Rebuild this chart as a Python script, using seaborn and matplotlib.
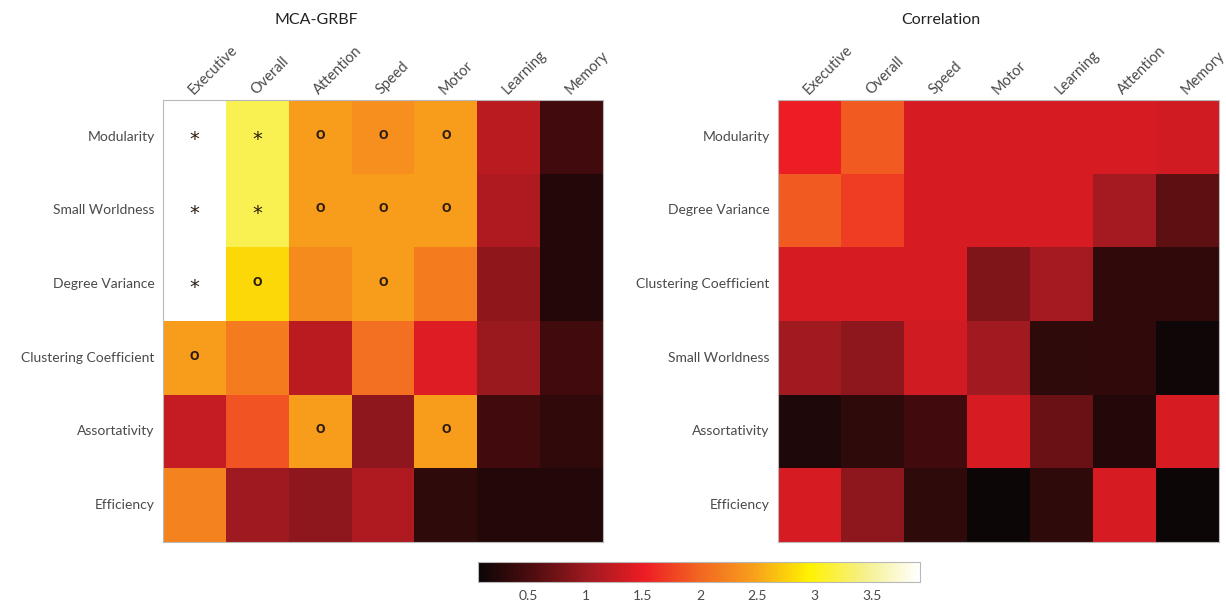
import numpy as np
import pandas as pd
import seaborn as sns
import matplotlib.pyplot as plt
from matplotlib.colors import LinearSegmentedColormap, Normalize
from matplotlib.cm import ScalarMappable
from matplotlib.transforms import ScaledTranslation

# ---- data -------------------------------------------------------------
mca_metrics = ["Modularity", "Small Worldness", "Degree Variance",
               "Clustering Coefficient", "Assortativity", "Efficiency"]
mca_domains = ["Executive", "Overall", "Attention", "Speed", "Motor",
               "Learning", "Memory"]
mca_values = [
    [3.92, 3.23, 2.45, 2.33, 2.45, 1.18, 0.45],
    [3.92, 3.23, 2.45, 2.45, 2.45, 1.12, 0.23],
    [3.92, 2.80, 2.30, 2.45, 2.18, 0.93, 0.23],
    [2.45, 2.18, 1.18, 2.07, 1.41, 0.99, 0.45],
    [1.26, 1.87, 2.45, 0.91, 2.45, 0.45, 0.33],
    [2.22, 1.02, 0.91, 1.12, 0.31, 0.23, 0.23],
]
mca_marks = [
    ["*", "*", "o", "o", "o", "", ""],
    ["*", "*", "o", "o", "o", "", ""],
    ["*", "o", "", "o", "", "", ""],
    ["o", "", "", "", "", "", ""],
    ["", "", "o", "", "o", "", ""],
    ["", "", "", "", "", "", ""],
]

corr_metrics = ["Modularity", "Degree Variance", "Clustering Coefficient",
                "Small Worldness", "Assortativity", "Efficiency"]
corr_domains = ["Executive", "Overall", "Speed", "Motor", "Learning",
                "Attention", "Memory"]
corr_values = [
    [1.51, 1.92, 1.37, 1.37, 1.37, 1.37, 1.33],
    [1.92, 1.72, 1.37, 1.37, 1.37, 1.06, 0.62],
    [1.37, 1.37, 1.37, 0.83, 1.06, 0.33, 0.33],
    [1.04, 0.91, 1.33, 1.04, 0.31, 0.33, 0.10],
    [0.21, 0.31, 0.45, 1.37, 0.70, 0.23, 1.37],
    [1.37, 0.91, 0.31, 0.08, 0.31, 1.37, 0.08],
]

cbar_ticks = [0.5, 1, 1.5, 2, 2.5, 3, 3.5]
vmin, vmax = 0.06, 3.92

# ---- style ------------------------------------------------------------
sns.set_theme(style="white")
plt.rcParams["font.family"] = ["Lato", "DejaVu Sans"]
label_color = "#4a4a4a"
edge_color = "#b8b8b8"

# hot-style map: black -> red -> orange -> yellow -> white
hot_print = LinearSegmentedColormap.from_list(
    "hot_print",
    [(0.000, "#0b0606"),
     (0.125, "#500d0f"),
     (0.250, "#a01a20"),
     (0.375, "#ed1c24"),
     (0.500, "#f26522"),
     (0.625, "#f7a01b"),
     (0.750, "#fff200"),
     (0.875, "#f5f08a"),
     (1.000, "#ffffff")],
)

fig = plt.figure(figsize=(12.26, 6.07), dpi=100)
ax_l = fig.add_axes([0.1330, 0.1071, 0.3589, 0.7282])
ax_r = fig.add_axes([0.6346, 0.1071, 0.3597, 0.7282])
ax_c = fig.add_axes([0.3899, 0.0412, 0.3605, 0.0330])


def px(dx, dy):
    return ScaledTranslation(dx / fig.dpi, dy / fig.dpi, fig.dpi_scale_trans)


def draw_panel(ax, values, metrics, domains, marks=None):
    df = pd.DataFrame(values, index=metrics, columns=domains)
    kw = {}
    if marks is not None:
        kw = dict(annot=np.array(marks), fmt="",
                  annot_kws={"fontsize": 12, "color": "#2a1a10",
                             "fontweight": "bold"})
    sns.heatmap(df, ax=ax, cmap=hot_print, vmin=vmin, vmax=vmax,
                cbar=False, square=False, linewidths=0, **kw)
    # significance markers: asterisks larger, both sitting a bit above centre
    for t in ax.texts:
        if t.get_text() == "*":
            t.set_fontfamily("DejaVu Sans")
            t.set_fontsize(14)
            t.set_fontweight("normal")
            t.set_transform(t.get_transform() + px(0, -3))
        elif t.get_text() == "o":
            t.set_transform(t.get_transform() + px(0, 3))
    ax.xaxis.tick_top()
    ax.set_xlabel("")
    ax.set_ylabel("")
    ax.set_xticklabels(domains, rotation=45, ha="left", va="bottom",
                       rotation_mode="default", fontsize=10.5,
                       color=label_color)
    ax.set_yticklabels(metrics, rotation=0, fontsize=10, color=label_color)
    ax.tick_params(axis="both", which="both", direction="in", length=3,
                   width=0.6, color=edge_color, top=True, left=True,
                   bottom=False, right=False)
    ax.tick_params(axis="x", pad=2)
    ax.tick_params(axis="y", pad=6)
    for lab in ax.get_xticklabels():
        lab.set_transform(lab.get_transform() + px(-9, 0))
    for side in ax.spines.values():
        side.set_visible(True)
        side.set_color(edge_color)
        side.set_linewidth(0.8)


draw_panel(ax_l, mca_values, mca_metrics, mca_domains, mca_marks)
draw_panel(ax_r, corr_values, corr_metrics, corr_domains)

fig.text(316 / 1226, 1 - 20 / 607, "MCA-GRBF", ha="center", va="center",
         fontsize=11.5, color="#222222")
fig.text(941 / 1226, 1 - 20 / 607, "Correlation", ha="center", va="center",
         fontsize=11.5, color="#222222")

sm = ScalarMappable(norm=Normalize(vmin=vmin, vmax=vmax), cmap=hot_print)
cb = fig.colorbar(sm, cax=ax_c, orientation="horizontal", ticks=cbar_ticks)
cb.ax.set_xticklabels([f"{t:g}" for t in cbar_ticks], fontsize=10,
                      color=label_color)
cb.ax.tick_params(direction="in", length=3, width=0.6, color=edge_color,
                  pad=6)
cb.outline.set_edgecolor(edge_color)
cb.outline.set_linewidth(0.8)

fig.savefig("out.png", dpi=100)
